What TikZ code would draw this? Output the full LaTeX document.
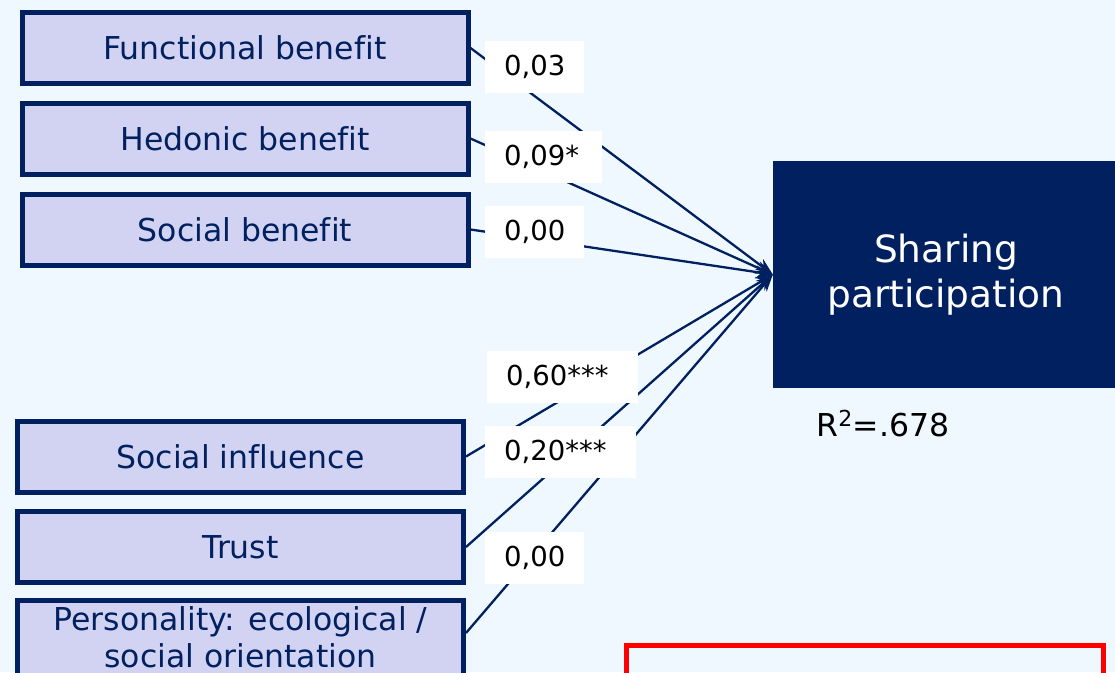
\documentclass[tikz,border=0pt]{standalone}
\usepackage{fontspec}
\setmainfont{DejaVu Sans}[Ligatures=NoCommon]
\usetikzlibrary{arrows.meta,positioning}
\definecolor{navy}{RGB}{0,32,96}
\definecolor{lavender}{RGB}{210,211,242}
\definecolor{bgblue}{RGB}{240,248,255}

\begin{document}
\begin{tikzpicture}[x=1pt,y=-1pt,>={Stealth[length=17pt,width=13pt]},
  factor/.style={draw=navy,line width=5pt,fill=lavender,text=navy,minimum width=446pt,minimum height=71pt,inner sep=0pt,align=center,font=\fontsize{31.5}{37}\selectfont},
  coef/.style={fill=white,inner xsep=19pt,inner ysep=0pt,minimum height=52pt,anchor=west,align=left,font=\fontsize{27.5}{32}\selectfont},
  link/.style={draw=navy,line width=2.3pt,->}]

% background and page size
\fill[bgblue] (0,0) rectangle (1115,672);
\useasboundingbox (0,0) rectangle (1115,672);

% predictors
\node[factor] (fb) at (245,48)    {Functional benefit};
\node[factor] (hb) at (245,138.5) {Hedonic benefit};
\node[factor] (sb) at (245,229.5) {Social benefit};
\node[factor] (si) at (240.5,456.5) {Social influence};
\node[factor] (tr) at (240.5,547)   {Trust};
\node[factor,minimum height=80pt,text depth=6pt] (pe) at (240.5,640) {Personality: ecological /\\social orientation};

% outcome
\node[fill=navy,text=white,minimum width=346pt,minimum height=227pt,align=center,font=\fontsize{37.5}{45}\selectfont] (sp) at (946,274.5) {Sharing\\participation};
\node[anchor=base west,font=\fontsize{31.5}{37}\selectfont] (r2) at (813,436) {R\textsuperscript{2}=.678};

% paths
\draw[link] (fb.east) -- (sp.west);
\draw[link] (hb.east) -- (sp.west);
\draw[link] (sb.east) -- (sp.west);
\draw[link] (si.east) -- (sp.west);
\draw[link] (tr.east) -- (sp.west);
\draw[link] ([yshift=7pt]pe.east) -- (sp.west);

% coefficients
\node[coef] (c1) at (485,67)  {0,03};
\node[coef,text width=79pt] (c2) at (485,157) {0,09*};
\node[coef] (c3) at (485,232) {0,00};
\node[coef,text width=113pt] (c4) at (487,377) {0,60***};
\node[coef,text width=113pt] (c5) at (485,452) {0,20***};
\node[coef] (c6) at (485,558) {0,00};

% red frame at bottom
\draw[red,line width=5pt] (626.5,645.5) rectangle (1103.5,700);

\end{tikzpicture}
\end{document}
